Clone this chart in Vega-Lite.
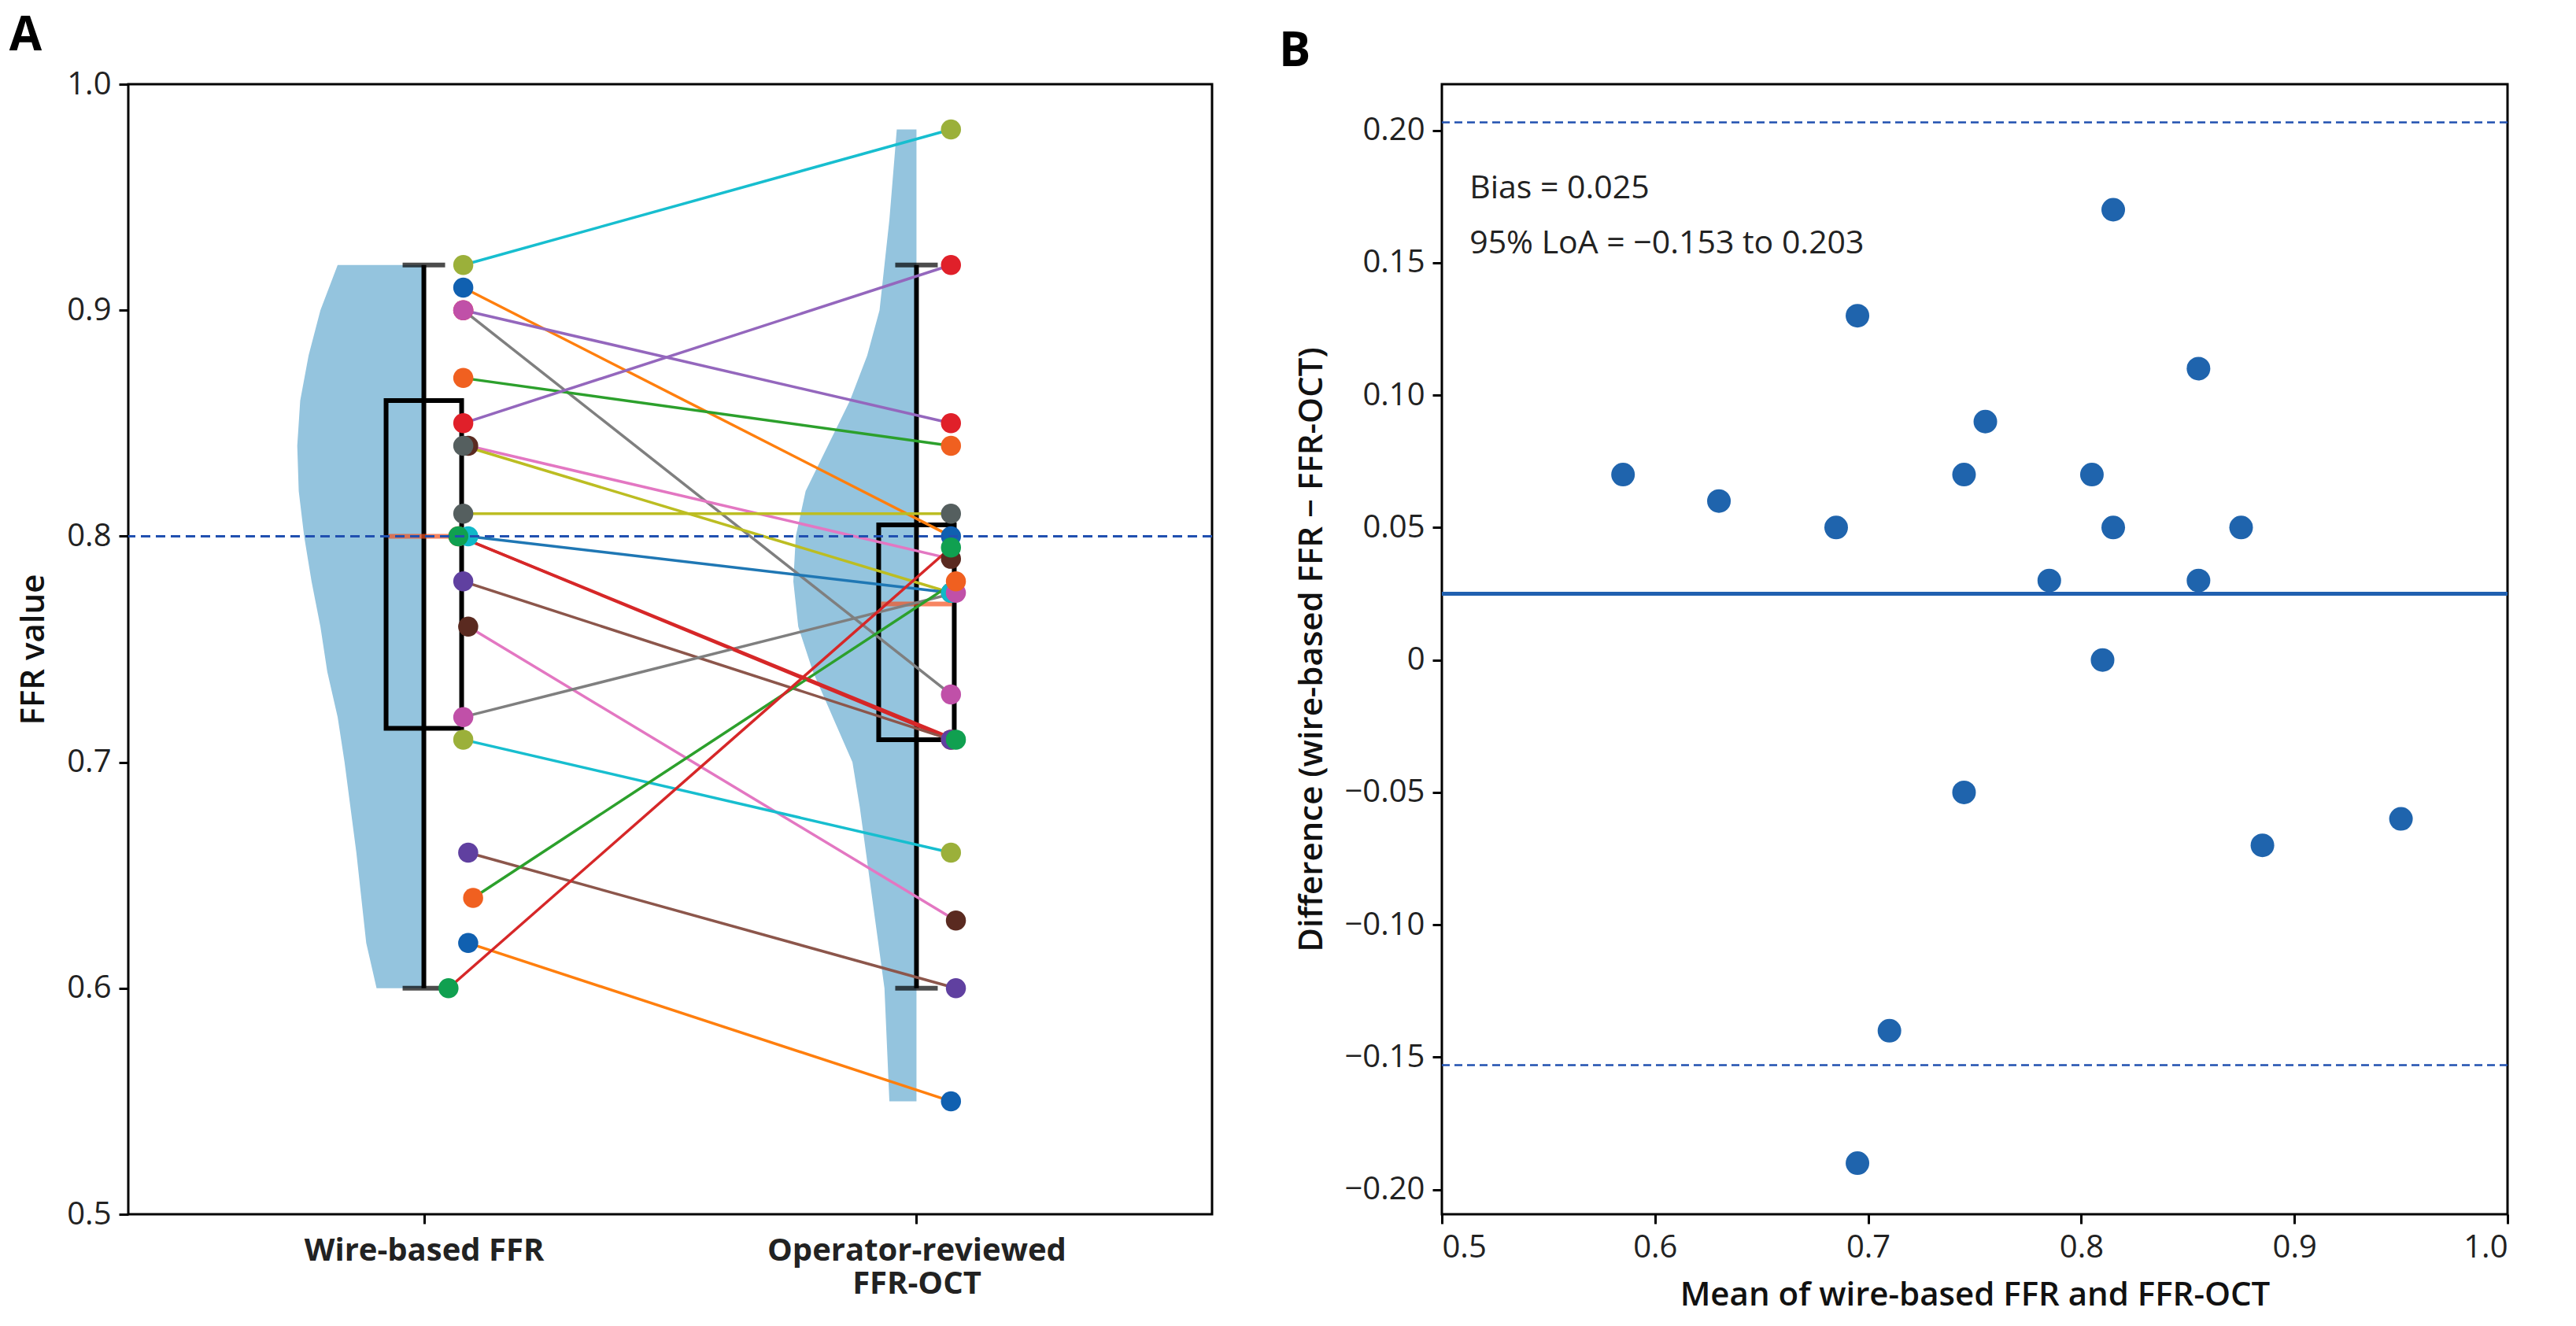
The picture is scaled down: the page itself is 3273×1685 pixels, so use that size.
{
  "$schema": "https://vega.github.io/schema/vega-lite/v6.json",
  "background": "white",
  "padding": {"left": 10, "top": 14, "right": 30, "bottom": 5},
  "spacing": 80,
  "datasets": {
    "pairs": [
      {"id": 1, "x": 0.08, "v": 0.92}, {"id": 1, "x": 1.07, "v": 0.98},
      {"id": 2, "x": 0.08, "v": 0.91}, {"id": 2, "x": 1.07, "v": 0.80},
      {"id": 3, "x": 0.08, "v": 0.90}, {"id": 3, "x": 1.07, "v": 0.85},
      {"id": 4, "x": 0.08, "v": 0.90}, {"id": 4, "x": 1.07, "v": 0.73},
      {"id": 5, "x": 0.08, "v": 0.87}, {"id": 5, "x": 1.07, "v": 0.84},
      {"id": 6, "x": 0.08, "v": 0.85}, {"id": 6, "x": 1.07, "v": 0.92},
      {"id": 7, "x": 0.09, "v": 0.84}, {"id": 7, "x": 1.07, "v": 0.79},
      {"id": 8, "x": 0.08, "v": 0.84}, {"id": 8, "x": 1.07, "v": 0.775},
      {"id": 9, "x": 0.08, "v": 0.81}, {"id": 9, "x": 1.07, "v": 0.81},
      {"id": 10, "x": 0.07, "v": 0.80}, {"id": 10, "x": 1.07, "v": 0.71},
      {"id": 11, "x": 0.09, "v": 0.80}, {"id": 11, "x": 1.07, "v": 0.775},
      {"id": 12, "x": 0.08, "v": 0.78}, {"id": 12, "x": 1.07, "v": 0.71},
      {"id": 13, "x": 0.09, "v": 0.76}, {"id": 13, "x": 1.08, "v": 0.63},
      {"id": 14, "x": 0.08, "v": 0.72}, {"id": 14, "x": 1.08, "v": 0.775},
      {"id": 15, "x": 0.08, "v": 0.71}, {"id": 15, "x": 1.07, "v": 0.66},
      {"id": 16, "x": 0.09, "v": 0.66}, {"id": 16, "x": 1.08, "v": 0.60},
      {"id": 17, "x": 0.1, "v": 0.64}, {"id": 17, "x": 1.08, "v": 0.78},
      {"id": 18, "x": 0.09, "v": 0.62}, {"id": 18, "x": 1.07, "v": 0.55},
      {"id": 19, "x": 0.05, "v": 0.60}, {"id": 19, "x": 1.07, "v": 0.795},
      {"id": 20, "x": 0.07, "v": 0.80}, {"id": 20, "x": 1.08, "v": 0.71}
    ],
    "violin": [
      {"g": "wire", "y": 0.92, "xl": -0.175, "xc": 0},
      {"g": "wire", "y": 0.90, "xl": -0.21, "xc": 0},
      {"g": "wire", "y": 0.88, "xl": -0.234, "xc": 0},
      {"g": "wire", "y": 0.86, "xl": -0.251, "xc": 0},
      {"g": "wire", "y": 0.84, "xl": -0.257, "xc": 0},
      {"g": "wire", "y": 0.82, "xl": -0.254, "xc": 0},
      {"g": "wire", "y": 0.80, "xl": -0.243, "xc": 0},
      {"g": "wire", "y": 0.78, "xl": -0.228, "xc": 0},
      {"g": "wire", "y": 0.76, "xl": -0.21, "xc": 0},
      {"g": "wire", "y": 0.74, "xl": -0.196, "xc": 0},
      {"g": "wire", "y": 0.72, "xl": -0.175, "xc": 0},
      {"g": "wire", "y": 0.70, "xl": -0.161, "xc": 0},
      {"g": "wire", "y": 0.66, "xl": -0.137, "xc": 0},
      {"g": "wire", "y": 0.62, "xl": -0.117, "xc": 0},
      {"g": "wire", "y": 0.60, "xl": -0.096, "xc": 0},
      {"g": "oct", "y": 0.98, "xl": 0.96, "xc": 1},
      {"g": "oct", "y": 0.94, "xl": 0.945, "xc": 1},
      {"g": "oct", "y": 0.92, "xl": 0.935, "xc": 1},
      {"g": "oct", "y": 0.90, "xl": 0.925, "xc": 1},
      {"g": "oct", "y": 0.88, "xl": 0.90, "xc": 1},
      {"g": "oct", "y": 0.86, "xl": 0.865, "xc": 1},
      {"g": "oct", "y": 0.84, "xl": 0.82, "xc": 1},
      {"g": "oct", "y": 0.82, "xl": 0.775, "xc": 1},
      {"g": "oct", "y": 0.80, "xl": 0.755, "xc": 1},
      {"g": "oct", "y": 0.78, "xl": 0.75, "xc": 1},
      {"g": "oct", "y": 0.76, "xl": 0.76, "xc": 1},
      {"g": "oct", "y": 0.74, "xl": 0.79, "xc": 1},
      {"g": "oct", "y": 0.72, "xl": 0.83, "xc": 1},
      {"g": "oct", "y": 0.70, "xl": 0.87, "xc": 1},
      {"g": "oct", "y": 0.68, "xl": 0.885, "xc": 1},
      {"g": "oct", "y": 0.64, "xl": 0.91, "xc": 1},
      {"g": "oct", "y": 0.60, "xl": 0.935, "xc": 1},
      {"g": "oct", "y": 0.55, "xl": 0.945, "xc": 1}
    ],
    "boxes": [
      {"pos": 0, "lo": 0.60, "q1": 0.715, "med": 0.80, "q3": 0.86, "hi": 0.92},
      {"pos": 1, "lo": 0.60, "q1": 0.71, "med": 0.77, "q3": 0.805, "hi": 0.92}
    ],
    "ba": [
      {"m": 0.585, "d": 0.07}, {"m": 0.63, "d": 0.06}, {"m": 0.685, "d": 0.05},
      {"m": 0.695, "d": 0.13}, {"m": 0.695, "d": -0.19}, {"m": 0.71, "d": -0.14},
      {"m": 0.745, "d": 0.07}, {"m": 0.745, "d": -0.05}, {"m": 0.755, "d": 0.09},
      {"m": 0.785, "d": 0.03}, {"m": 0.805, "d": 0.07}, {"m": 0.81, "d": 0.0},
      {"m": 0.815, "d": 0.17}, {"m": 0.815, "d": 0.05}, {"m": 0.855, "d": 0.11},
      {"m": 0.855, "d": 0.03}, {"m": 0.875, "d": 0.05}, {"m": 0.885, "d": -0.07},
      {"m": 0.95, "d": -0.06}
    ]
  },
  "hconcat": [
    {
      "width": 1377,
      "height": 1436,
      "title": {"text": "A", "anchor": "start", "frame": "bounds", "fontSize": 60, "fontWeight": "bold", "dx": -10, "offset": 10},
      "layer": [
        {
          "data": {"name": "violin"},
          "mark": {"type": "area", "orient": "horizontal", "color": "#94c4de", "opacity": 1},
          "encoding": {
            "y": {"field": "y", "type": "quantitative", "scale": {"domain": [0.5, 1.0]},
              "axis": {"values": [0.5, 0.6, 0.7, 0.8, 0.9, 1.0], "format": ".1f", "title": "FFR value"}},
            "x": {"field": "xl", "type": "quantitative", "scale": {"domain": [-0.48, 1.45]},
              "axis": {"values": [0, 1], "title": null, "labelFontWeight": "bold", "labelPadding": 14, "labelLimit": 0,
                "labelExpr": "datum.value == 0 ? 'Wire-based FFR' : ['Operator-reviewed', 'FFR-OCT']"}},
            "x2": {"field": "xc"},
            "detail": {"field": "g"}
          }
        },
        {
          "data": {"name": "boxes"},
          "mark": {"type": "rule", "color": "black", "strokeWidth": 6},
          "encoding": {"x": {"field": "pos", "type": "quantitative"}, "y": {"field": "lo", "type": "quantitative"}, "y2": {"field": "hi"}}
        },
        {
          "data": {"name": "boxes"},
          "mark": {"type": "bar", "size": 96, "fill": "white", "fillOpacity": 0, "stroke": "black", "strokeWidth": 6},
          "encoding": {"x": {"field": "pos", "type": "quantitative"}, "y": {"field": "q1", "type": "quantitative"}, "y2": {"field": "q3"}}
        },
        {
          "data": {"name": "boxes"},
          "mark": {"type": "tick", "orient": "horizontal", "size": 54, "thickness": 6, "color": "black"},
          "encoding": {"x": {"field": "pos", "type": "quantitative"}, "y": {"field": "lo", "type": "quantitative"}}
        },
        {
          "data": {"name": "boxes"},
          "mark": {"type": "tick", "orient": "horizontal", "size": 54, "thickness": 6, "color": "black"},
          "encoding": {"x": {"field": "pos", "type": "quantitative"}, "y": {"field": "hi", "type": "quantitative"}}
        },
        {
          "data": {"name": "boxes"},
          "mark": {"type": "tick", "orient": "horizontal", "size": 90, "thickness": 6, "color": "#f4511e"},
          "encoding": {"x": {"field": "pos", "type": "quantitative"}, "y": {"field": "med", "type": "quantitative"}}
        },
        {
          "data": {"name": "pairs"},
          "mark": {"type": "line", "strokeWidth": 3.5},
          "encoding": {
            "x": {"field": "x", "type": "quantitative"},
            "y": {"field": "v", "type": "quantitative"},
            "detail": {"field": "id"},
            "color": {"field": "id", "type": "nominal", "legend": null,
              "scale": {"range": ["#17becf", "#ff7f0e", "#9467bd", "#7f7f7f", "#2ca02c", "#9467bd", "#e377c2", "#bcbd22", "#bcbd22", "#d62728", "#1f77b4", "#8c564b", "#e377c2", "#7f7f7f", "#17becf", "#8c564b", "#2ca02c", "#ff7f0e", "#d62728", "#d62728"]}}
          }
        },
        {
          "data": {"name": "pairs"},
          "mark": {"type": "circle", "size": 650, "opacity": 1},
          "encoding": {
            "x": {"field": "x", "type": "quantitative"},
            "y": {"field": "v", "type": "quantitative"},
            "fill": {"field": "id", "type": "nominal", "legend": null,
              "scale": {"range": ["#9bb03a", "#1060b0", "#e0202a", "#c050a8", "#f06020", "#e0202a", "#5a2a20", "#555f5f", "#555f5f", "#f4511e", "#10b8c8", "#6040a0", "#5a2a20", "#c050a8", "#9bb03a", "#6040a0", "#f06020", "#1060b0", "#10a050", "#10a050"]}}
          }
        },
        {
          "data": {"values": [{"y": 0.8}]},
          "mark": {"type": "rule", "color": "#2050b0", "strokeWidth": 3, "strokeDash": [12, 7]},
          "encoding": {"y": {"field": "y", "type": "quantitative"}}
        }
      ],
      "resolve": {"scale": {"color": "independent", "fill": "independent"}}
    },
    {
      "width": 1354,
      "height": 1436,
      "title": {"text": "B", "anchor": "start", "frame": "bounds", "fontSize": 60, "fontWeight": "bold", "dx": -20, "offset": 10},
      "layer": [
        {
          "data": {"name": "ba"},
          "mark": {"type": "circle", "size": 900, "color": "#1f64ad", "opacity": 1},
          "encoding": {
            "x": {"field": "m", "type": "quantitative", "scale": {"domain": [0.5, 1.0]},
              "axis": {"values": [0.5, 0.6, 0.7, 0.8, 0.9, 1.0], "format": ".1f", "title": "Mean of wire-based FFR and FFR-OCT"}},
            "y": {"field": "d", "type": "quantitative", "scale": {"domain": [-0.2093, 0.2174], "nice": false},
              "axis": {"values": [-0.2, -0.15, -0.1, -0.05, 0, 0.05, 0.1, 0.15, 0.2],
                "labelExpr": "datum.value == 0 ? '0' : format(datum.value, '.2f')",
                "title": "Difference (wire-based FFR − FFR-OCT)"}}
          }
        },
        {
          "data": {"values": [{"y": 0.025, "k": "bias"}]},
          "mark": {"type": "rule", "color": "#2060b0", "strokeWidth": 5},
          "encoding": {"y": {"field": "y", "type": "quantitative"}}
        },
        {
          "data": {"values": [{"y": 0.203, "k": "upper"}, {"y": -0.153, "k": "lower"}]},
          "mark": {"type": "rule", "color": "#2050b0", "strokeWidth": 2.5, "strokeDash": [10, 6]},
          "encoding": {"y": {"field": "y", "type": "quantitative"}}
        },
        {
          "data": {"values": [
            {"x": 0.513, "y": 0.178, "t": "Bias = 0.025"},
            {"x": 0.513, "y": 0.157, "t": "95% LoA = −0.153 to 0.203"}
          ]},
          "mark": {"type": "text", "align": "left", "baseline": "middle", "fontSize": 41, "font": "Open Sans", "color": "#222"},
          "encoding": {
            "x": {"field": "x", "type": "quantitative"},
            "y": {"field": "y", "type": "quantitative"},
            "text": {"field": "t"}
          }
        }
      ]
    }
  ],
  "config": {
    "font": "Open Sans",
    "view": {"stroke": "black", "strokeWidth": 3},
    "axis": {
      "grid": false,
      "domain": false,
      "ticks": true,
      "tickColor": "black",
      "tickWidth": 3,
      "tickSize": 12,
      "labelFontSize": 40,
      "labelColor": "#222",
      "labelPadding": 10,
      "titleFontSize": 42,
      "titleFontWeight": 600,
      "titleColor": "#111",
      "titlePadding": 20
    }
  }
}
